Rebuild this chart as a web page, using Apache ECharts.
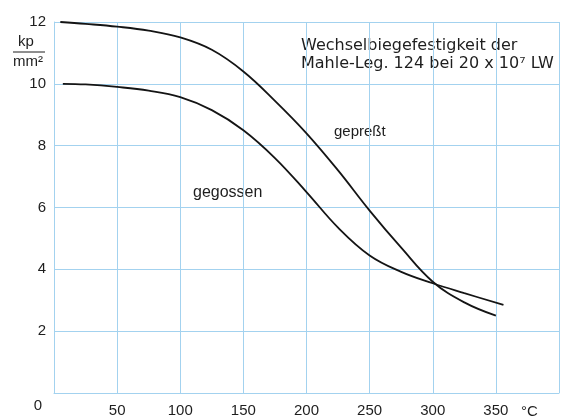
<!DOCTYPE html>
<html>
<head>
<meta charset="utf-8">
<script src="https://cdn.jsdelivr.net/npm/echarts@6/dist/echarts.min.js"></script>
<style>
  html, body { margin: 0; padding: 0; background: #fff; }
  #chart { width: 562px; height: 418px; }
</style>
</head>
<body>
<div id="chart"></div>
<script>
// Temperature in °C, fatigue strength in kp/mm²
const tempPressed = [5, 25, 50, 75, 100, 125, 150, 175, 200, 225, 250, 275, 300, 325, 350];
const valPressed  = [12.0, 11.94, 11.85, 11.72, 11.5, 11.1, 10.4, 9.45, 8.4, 7.2, 5.9, 4.7, 3.6, 2.93, 2.5];

const tempCast = [7, 25, 50, 75, 100, 125, 150, 175, 200, 225, 250, 275, 300, 325, 356];
const valCast  = [10.0, 9.98, 9.9, 9.78, 9.57, 9.15, 8.5, 7.6, 6.5, 5.35, 4.45, 3.92, 3.55, 3.23, 2.85];

const xTicks = [50, 100, 150, 200, 250, 300, 350];
const yTicks = [0, 2, 4, 6, 8, 10, 12];

const labelPressed = 'gepreßt';
const labelCast = 'gegossen';
const noteLines = ['Wechselbiegefestigkeit der', 'Mahle-Leg. 124 bei 20 x 10⁷ LW'];
const unitTop = 'kp';
const unitBottom = 'mm²';
const xUnit = '°C';

const FONT = '"Liberation Sans", Arial, sans-serif';
const TEXT = '#1e1e1e';
const GRID = '#a3d2ef';

function pairs(xs, ys) { return xs.map((x, i) => [x, ys[i]]); }

const chart = echarts.init(document.getElementById('chart'), null, { renderer: 'canvas' });

chart.setOption({
  backgroundColor: '#ffffff',
  animation: false,
  grid: { left: 54, right: 0, top: 22, bottom: 21, containLabel: false },
  xAxis: {
    type: 'value', min: 0, max: 400, interval: 50,
    axisLine: { show: true, lineStyle: { color: GRID, width: 1 } },
    axisTick: { show: false },
    splitLine: { show: true, lineStyle: { color: GRID, width: 1 } },
    axisLabel: {
      margin: 10, fontFamily: FONT, fontSize: 15, color: TEXT,
      formatter: v => (xTicks.indexOf(v) >= 0 ? String(v) : '')
    }
  },
  yAxis: {
    type: 'value', min: 0, max: 12, interval: 2,
    axisLine: { show: true, lineStyle: { color: GRID, width: 1 } },
    axisTick: { show: false },
    splitLine: { show: true, lineStyle: { color: GRID, width: 1 } },
    axisLabel: {
      margin: 8, fontFamily: FONT, fontSize: 15, color: TEXT,
      formatter: v => (v === 0 ? '{z|0}' : (yTicks.indexOf(v) >= 0 ? String(v) : '')),
      rich: { z: { fontFamily: FONT, fontSize: 15, color: TEXT, padding: [26, 4, 0, 0] } }
    }
  },
  series: [
    {
      name: labelPressed, type: 'line', data: pairs(tempPressed, valPressed),
      smooth: 0.4, showSymbol: false,
      lineStyle: { color: '#141414', width: 1.8 }
    },
    {
      name: labelCast, type: 'line', data: pairs(tempCast, valCast),
      smooth: 0.4, showSymbol: false,
      lineStyle: { color: '#141414', width: 1.8 }
    }
  ],
  graphic: [
    { type: 'text', left: 301, top: 37, style: { text: noteLines.join('\n'), font: '16px "DejaVu Sans", sans-serif', fill: TEXT, lineHeight: 18 } },
    { type: 'text', left: 334, top: 124, style: { text: labelPressed, font: '15px ' + FONT, fill: TEXT } },
    { type: 'text', left: 193, top: 185, style: { text: labelCast, font: '16px ' + FONT, fill: TEXT } },
    { type: 'text', left: 18, top: 34, style: { text: unitTop, font: '15px ' + FONT, fill: TEXT } },
    { type: 'line', shape: { x1: 13, y1: 52, x2: 45, y2: 52 }, style: { stroke: TEXT, lineWidth: 1 } },
    { type: 'text', left: 13, top: 54, style: { text: unitBottom, font: '15px ' + FONT, fill: TEXT } },
    { type: 'text', left: 521, top: 404, style: { text: xUnit, font: '15px ' + FONT, fill: TEXT } }
  ]
});
</script>
</body>
</html>
